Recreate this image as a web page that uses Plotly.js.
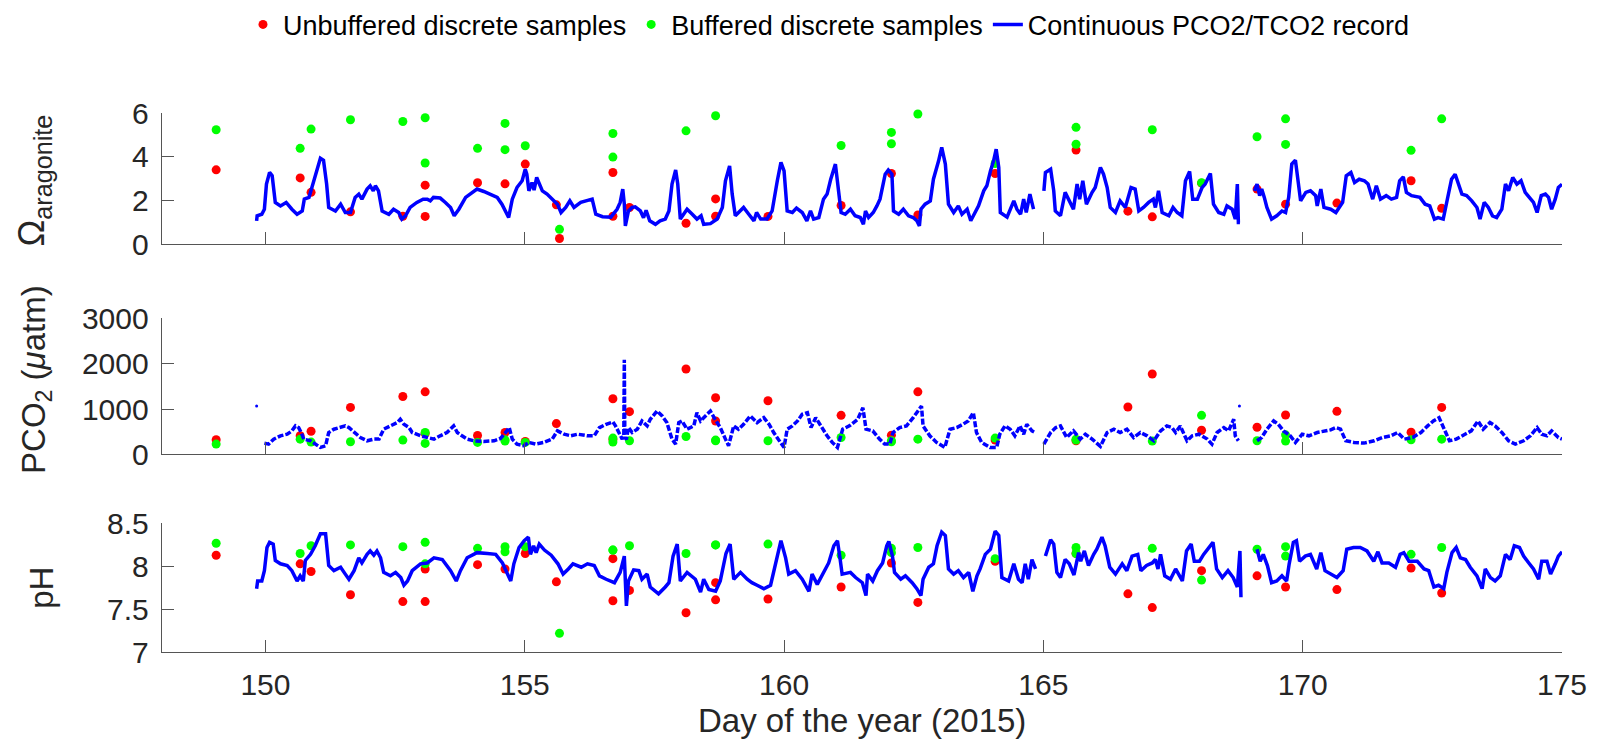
<!DOCTYPE html>
<html>
<head>
<meta charset="utf-8">
<script src="https://cdn.plot.ly/plotly-3.0.1.min.js"></script>
<style>html,body{margin:0;padding:0;background:#fff;}#chart{width:1598px;height:740px;}</style>
</head>
<body>
<div id="chart"></div>
<script>
// ---- Discrete samples (day of year 2015) ----
const unbufferedDays = [149.05,150.67,150.88,151.64,152.65,153.08,153.08,154.09,154.62,155.01,155.61,155.67,156.70,156.70,157.02,158.11,158.68,158.68,159.69,161.10,162.07,162.58,164.07,165.63,166.63,167.10,168.05,169.12,169.67,170.66,172.09,172.68];
const unbufferedOmega = [3.41,3.04,2.38,1.49,1.29,2.71,1.28,2.82,2.77,3.67,1.81,0.27,3.29,1.29,1.69,0.97,2.08,1.29,1.28,1.78,3.24,1.35,3.24,4.31,1.52,1.26,2.80,2.53,1.84,1.89,2.91,1.65];
const unbufferedPCO2 = [322,409,510,1036,1277,460,1380,416,482,285,679,null,330,1226,942,1883,737,1248,1183,861,423,1380,314,300,1044,1774,533,599,869,949,489,1036];
const unbufferedPH = [8.13,8.03,7.94,7.67,7.59,7.97,7.59,8.02,7.97,8.15,7.82,null,8.09,7.60,7.72,7.46,7.81,7.61,7.62,7.76,8.04,7.58,8.06,8.15,7.68,7.52,7.95,7.89,7.76,7.73,7.98,7.69];

const bufferedDays = [149.05,150.67,150.88,151.64,152.65,153.08,153.08,154.09,154.62,154.62,155.01,155.67,156.70,156.70,157.02,158.11,158.68,158.68,159.69,161.10,162.07,162.07,162.58,164.07,165.63,165.63,167.10,168.05,169.12,169.67,169.67,172.09,172.68];
const bufferedOmega = [5.24,4.39,5.27,5.70,5.62,5.79,3.72,4.39,5.53,4.33,4.51,0.69,5.07,3.99,null,5.19,6.03,5.88,null,4.52,5.12,4.60,5.96,3.70,5.35,4.58,5.24,2.82,4.92,5.74,4.57,4.30,5.74];
const bufferedPCO2 = [226,335,270,277,314,241,482,263,292,320,263,null,270,358,300,394,314,300,300,372,277,300,335,358,314,335,292,861,300,292,431,321,335];
const bufferedPH = [8.27,8.15,8.24,8.25,8.23,8.28,8.03,8.21,8.23,8.17,8.23,7.22,8.19,8.19,8.24,8.15,8.25,8.25,8.26,8.13,8.21,8.16,8.22,8.09,8.22,8.15,8.21,7.84,8.20,8.23,8.12,8.14,8.22];

// ---- Continuous PCO2/TCO2 record: [day, value] ----
const omegaRecord = [[149.83,1.08],[149.84,1.31],[149.93,1.38],[149.98,1.61],[150.02,2.76],[150.08,3.29],[150.13,3.14],[150.19,1.92],[150.29,1.76],[150.40,1.92],[150.51,1.61],[150.61,1.38],[150.71,1.53],[150.75,2.07],[150.84,2.15],[150.93,2.83],[151.00,3.36],[151.06,3.94],[151.12,3.85],[151.18,2.76],[151.22,1.69],[151.35,1.53],[151.45,1.84],[151.54,1.46],[151.64,1.46],[151.73,2.15],[151.80,2.30],[151.86,2.07],[151.96,2.53],[152.02,2.68],[152.08,2.45],[152.12,2.68],[152.18,2.45],[152.25,1.53],[152.38,1.38],[152.47,1.61],[152.57,1.46],[152.63,1.16],[152.70,1.31],[152.79,1.69],[152.92,1.92],[153.04,2.07],[153.12,2.07],[153.18,1.99],[153.24,2.15],[153.37,2.12],[153.47,1.92],[153.57,1.69],[153.64,1.31],[153.73,1.61],[153.86,2.15],[153.98,2.38],[154.08,2.53],[154.21,2.42],[154.34,2.30],[154.47,2.15],[154.56,1.84],[154.66,1.31],[154.69,1.23],[154.76,2.07],[154.85,2.60],[154.95,2.91],[155.01,3.44],[155.04,3.21],[155.08,2.45],[155.14,2.83],[155.18,2.48],[155.23,3.06],[155.27,2.83],[155.34,2.45],[155.43,2.30],[155.53,2.07],[155.63,1.84],[155.70,1.46],[155.79,1.69],[155.87,1.99],[155.95,1.69],[156.08,1.92],[156.21,1.99],[156.30,2.07],[156.37,1.38],[156.50,1.27],[156.66,1.25],[156.78,1.61],[156.84,1.92],[156.89,2.53],[156.92,1.84],[156.94,0.85],[157.00,1.53],[157.07,1.69],[157.13,1.72],[157.23,1.53],[157.29,1.22],[157.34,1.56],[157.41,1.08],[157.52,0.92],[157.61,1.08],[157.71,1.16],[157.78,1.53],[157.84,2.76],[157.91,3.40],[157.95,2.76],[158.00,1.16],[158.13,1.61],[158.23,1.38],[158.32,1.16],[158.40,1.31],[158.45,0.92],[158.58,0.95],[158.71,1.16],[158.81,1.69],[158.87,2.91],[158.95,3.59],[159.00,2.30],[159.06,1.31],[159.16,1.53],[159.22,1.69],[159.32,1.38],[159.42,1.08],[159.47,1.46],[159.55,1.16],[159.67,1.16],[159.77,1.53],[159.87,2.91],[159.94,3.75],[160.00,3.36],[160.06,1.53],[160.16,1.46],[160.24,1.66],[160.35,1.46],[160.44,1.08],[160.51,1.53],[160.57,1.16],[160.67,1.23],[160.76,2.07],[160.83,2.30],[160.90,2.98],[160.99,3.67],[161.03,2.91],[161.10,1.46],[161.18,1.38],[161.28,1.61],[161.37,1.31],[161.47,1.23],[161.53,0.92],[161.57,1.53],[161.63,1.23],[161.72,1.46],[161.79,1.76],[161.85,2.07],[161.95,3.21],[162.01,3.40],[162.08,3.21],[162.11,1.53],[162.21,1.38],[162.30,1.61],[162.40,1.31],[162.49,1.23],[162.56,1.08],[162.61,0.85],[162.64,1.61],[162.72,1.84],[162.82,1.99],[162.88,2.98],[162.98,3.82],[163.04,4.43],[163.11,3.67],[163.17,1.84],[163.27,1.46],[163.36,1.76],[163.43,1.38],[163.53,1.61],[163.60,1.08],[163.69,1.53],[163.75,1.76],[163.85,2.45],[163.91,2.68],[163.98,3.36],[164.04,3.82],[164.09,4.35],[164.14,3.52],[164.17,1.46],[164.30,1.25],[164.43,1.99],[164.49,1.61],[164.56,1.38],[164.62,2.07],[164.67,1.46],[164.74,2.30],[164.81,1.61],[164.90,null],[165.01,2.45],[165.04,3.29],[165.14,3.44],[165.20,2.45],[165.23,1.53],[165.33,1.31],[165.42,2.38],[165.49,2.00],[165.58,1.61],[165.65,2.76],[165.70,2.07],[165.76,2.91],[165.83,1.84],[165.94,2.38],[166.00,2.60],[166.10,3.52],[166.16,3.21],[166.23,2.60],[166.29,1.69],[166.39,1.46],[166.48,1.99],[166.58,1.69],[166.69,2.60],[166.77,2.53],[166.84,1.53],[166.93,1.69],[167.03,1.92],[167.12,2.07],[167.16,1.69],[167.22,2.45],[167.29,1.46],[167.42,1.31],[167.50,1.69],[167.58,1.46],[167.67,1.31],[167.74,2.91],[167.82,3.33],[167.88,2.07],[167.97,2.07],[168.06,2.60],[168.12,2.76],[168.22,3.24],[168.28,1.84],[168.38,1.46],[168.48,1.38],[168.54,1.76],[168.64,1.61],[168.70,1.16],[168.74,2.76],[168.76,1.00],[168.79,1.00],[168.90,null],[169.07,2.45],[169.12,2.76],[169.17,2.23],[169.21,2.53],[169.26,2.15],[169.31,1.69],[169.40,1.16],[169.50,1.31],[169.60,1.53],[169.67,1.46],[169.73,2.15],[169.79,3.67],[169.86,3.85],[169.91,2.91],[169.96,1.99],[170.06,2.38],[170.15,2.45],[170.25,2.23],[170.28,1.76],[170.35,2.53],[170.41,1.69],[170.54,1.61],[170.64,1.46],[170.77,1.92],[170.84,3.14],[170.93,3.29],[171.00,2.83],[171.09,2.98],[171.19,2.91],[171.26,2.76],[171.35,2.07],[171.42,2.68],[171.50,2.07],[171.61,2.23],[171.71,2.07],[171.81,2.15],[171.87,2.91],[171.94,3.09],[172.00,2.38],[172.10,2.23],[172.26,2.15],[172.36,1.84],[172.45,1.76],[172.54,1.16],[172.61,1.23],[172.71,1.16],[172.78,1.92],[172.87,2.98],[172.94,3.21],[173.00,2.76],[173.07,2.30],[173.16,2.23],[173.26,1.99],[173.36,1.69],[173.42,1.16],[173.50,1.92],[173.58,1.69],[173.66,1.31],[173.74,1.23],[173.84,1.61],[173.91,2.76],[173.97,2.45],[174.05,3.06],[174.13,2.76],[174.21,2.91],[174.29,2.38],[174.39,2.07],[174.45,1.92],[174.52,1.46],[174.60,2.23],[174.68,2.30],[174.74,2.15],[174.80,1.61],[174.87,2.07],[174.93,2.60],[175.00,2.75]];

const pco2Record = [[149.98,248],[150.06,226],[150.16,336],[150.29,409],[150.42,445],[150.51,518],[150.58,628],[150.64,591],[150.69,482],[150.74,336],[150.87,299],[150.96,226],[151.06,153],[151.16,190],[151.22,482],[151.32,555],[151.45,591],[151.54,628],[151.61,591],[151.71,482],[151.83,372],[151.96,299],[152.09,336],[152.19,336],[152.28,555],[152.41,628],[152.54,701],[152.60,774],[152.67,664],[152.77,591],[152.83,482],[152.99,409],[153.12,372],[153.25,336],[153.37,409],[153.50,482],[153.63,628],[153.70,482],[153.79,409],[153.89,336],[154.02,299],[154.21,285],[154.41,299],[154.53,350],[154.63,482],[154.70,591],[154.76,336],[154.85,226],[154.98,190],[155.08,263],[155.21,226],[155.37,263],[155.53,336],[155.63,518],[155.76,445],[155.89,409],[156.02,445],[156.21,409],[156.34,409],[156.44,591],[156.57,664],[156.70,715],[156.75,628],[156.81,482],[156.88,336],[156.91,420],[156.92,2088],[156.93,380],[156.96,330],[157.00,591],[157.07,482],[157.17,555],[157.26,737],[157.36,628],[157.42,774],[157.55,956],[157.65,847],[157.74,701],[157.84,336],[157.91,226],[157.97,701],[158.03,737],[158.13,555],[158.26,628],[158.32,920],[158.39,737],[158.48,847],[158.58,956],[158.67,774],[158.77,591],[158.87,336],[158.93,190],[159.03,628],[159.12,555],[159.22,664],[159.35,847],[159.48,701],[159.61,810],[159.71,664],[159.80,482],[159.93,263],[160.00,153],[160.06,555],[160.16,628],[160.26,737],[160.35,883],[160.45,920],[160.52,591],[160.61,810],[160.74,555],[160.83,409],[160.93,263],[161.03,153],[161.13,555],[161.26,628],[161.42,774],[161.52,1029],[161.58,555],[161.71,518],[161.84,336],[161.94,226],[162.04,226],[162.10,482],[162.23,591],[162.36,628],[162.49,810],[162.58,956],[162.65,1066],[162.68,628],[162.81,409],[162.94,263],[163.10,153],[163.20,555],[163.33,591],[163.45,664],[163.55,737],[163.65,920],[163.71,482],[163.81,263],[163.97,153],[164.10,153],[164.16,445],[164.26,628],[164.36,555],[164.45,409],[164.55,628],[164.62,445],[164.68,664],[164.78,518],[164.84,482],[164.92,null],[165.01,226],[165.14,482],[165.24,591],[165.33,628],[165.45,372],[165.58,518],[165.71,336],[165.81,445],[165.94,336],[166.10,175],[166.23,482],[166.36,555],[166.48,482],[166.61,555],[166.74,372],[166.87,482],[167.00,409],[167.13,299],[167.26,518],[167.38,628],[167.48,591],[167.55,482],[167.64,628],[167.77,299],[167.87,409],[168.00,445],[168.16,336],[168.25,226],[168.35,482],[168.48,591],[168.57,518],[168.67,774],[168.70,409],[168.76,299],[168.90,null],[169.12,299],[169.21,372],[169.31,555],[169.44,737],[169.53,664],[169.63,518],[169.76,409],[169.86,263],[169.99,445],[170.12,409],[170.28,482],[170.41,518],[170.54,540],[170.64,591],[170.73,555],[170.83,299],[170.99,263],[171.18,248],[171.38,299],[171.54,372],[171.70,409],[171.83,482],[171.96,336],[172.12,372],[172.28,482],[172.41,628],[172.52,737],[172.63,810],[172.73,555],[172.83,299],[172.96,336],[173.09,409],[173.25,518],[173.38,737],[173.48,555],[173.61,701],[173.71,628],[173.84,482],[173.97,299],[174.10,226],[174.26,299],[174.39,409],[174.52,591],[174.61,445],[174.71,409],[174.80,518],[174.93,372],[175.00,336]];
const pco2Isolated = [[149.83,1066],[168.78,1066]];

const phRecord = [[149.83,7.74],[149.85,7.83],[149.93,7.83],[149.98,7.95],[150.03,8.22],[150.08,8.28],[150.15,8.26],[150.19,8.07],[150.29,8.03],[150.42,8.01],[150.51,7.95],[150.61,7.83],[150.67,7.89],[150.73,7.83],[150.77,8.07],[150.87,8.14],[150.96,8.24],[151.06,8.38],[151.16,8.38],[151.22,8.01],[151.32,7.95],[151.45,7.99],[151.54,7.91],[151.61,7.85],[151.71,7.95],[151.80,8.10],[151.86,8.04],[151.96,8.14],[152.02,8.18],[152.09,8.13],[152.15,8.18],[152.22,8.10],[152.28,7.93],[152.41,7.89],[152.51,7.93],[152.61,7.87],[152.67,7.78],[152.74,7.83],[152.83,7.95],[152.99,8.03],[153.12,8.04],[153.25,8.10],[153.41,8.08],[153.57,7.95],[153.68,7.83],[153.76,7.95],[153.89,8.10],[154.08,8.16],[154.28,8.15],[154.44,8.14],[154.57,8.04],[154.66,7.91],[154.73,7.83],[154.79,8.03],[154.89,8.22],[154.99,8.30],[155.07,8.34],[155.11,8.14],[155.17,8.24],[155.22,8.16],[155.28,8.26],[155.38,8.19],[155.51,8.13],[155.64,8.03],[155.74,7.91],[155.84,7.97],[155.93,8.03],[156.09,7.99],[156.21,8.03],[156.34,8.01],[156.44,7.89],[156.57,7.85],[156.73,7.81],[156.84,7.93],[156.89,8.03],[156.92,8.12],[156.96,7.54],[157.00,7.83],[157.10,7.96],[157.20,7.95],[157.26,7.85],[157.36,7.91],[157.42,7.76],[157.58,7.68],[157.71,7.76],[157.78,7.81],[157.86,8.12],[157.94,8.26],[158.00,7.83],[158.13,7.93],[158.29,7.85],[158.39,7.70],[158.45,7.85],[158.55,7.73],[158.68,7.71],[158.77,7.83],[158.88,8.15],[158.96,8.26],[159.03,7.85],[159.16,7.93],[159.29,7.85],[159.38,7.81],[159.48,7.78],[159.61,7.74],[159.74,7.78],[159.83,8.03],[159.94,8.30],[160.03,8.10],[160.09,7.91],[160.22,7.95],[160.35,7.85],[160.48,7.71],[160.54,7.91],[160.64,7.79],[160.77,7.93],[160.86,8.04],[160.96,8.24],[161.03,8.30],[161.08,8.09],[161.12,7.91],[161.28,7.93],[161.38,7.87],[161.51,7.81],[161.58,7.66],[161.61,7.91],[161.71,7.83],[161.80,7.95],[161.90,8.04],[161.98,8.24],[162.02,8.29],[162.09,8.12],[162.13,7.93],[162.25,7.85],[162.34,7.89],[162.47,7.81],[162.56,7.74],[162.64,7.66],[162.68,7.85],[162.79,7.99],[162.88,8.03],[162.95,8.24],[163.04,8.40],[163.11,8.36],[163.17,7.97],[163.27,7.91],[163.36,7.95],[163.46,7.87],[163.56,7.93],[163.64,7.71],[163.72,7.89],[163.78,7.97],[163.88,8.14],[163.98,8.20],[164.07,8.41],[164.14,8.36],[164.20,7.87],[164.33,7.83],[164.43,8.03],[164.52,7.85],[164.59,7.81],[164.65,8.03],[164.71,7.85],[164.78,8.08],[164.85,7.97],[164.94,null],[165.04,8.12],[165.14,8.31],[165.20,8.26],[165.26,7.93],[165.33,7.87],[165.42,8.08],[165.50,8.03],[165.59,7.90],[165.68,8.16],[165.72,8.06],[165.79,8.18],[165.87,8.01],[165.97,8.14],[166.03,8.20],[166.13,8.34],[166.19,8.24],[166.28,7.99],[166.39,7.91],[166.52,8.03],[166.61,7.95],[166.71,8.12],[166.82,8.14],[166.88,7.95],[166.99,8.01],[167.10,8.04],[167.16,8.08],[167.21,7.97],[167.26,8.14],[167.34,7.89],[167.45,7.85],[167.55,7.97],[167.68,7.83],[167.76,8.18],[167.85,8.26],[167.91,8.06],[168.01,8.06],[168.09,8.14],[168.19,8.22],[168.27,8.28],[168.34,7.97],[168.45,7.87],[168.56,7.95],[168.66,7.87],[168.74,7.76],[168.79,8.18],[168.81,7.64],[168.95,null],[169.12,8.20],[169.18,8.06],[169.24,8.14],[169.32,8.01],[169.40,7.81],[169.50,7.83],[169.60,7.89],[169.69,7.83],[169.74,8.03],[169.82,8.28],[169.88,8.30],[169.94,8.06],[170.05,8.12],[170.15,8.14],[170.27,7.97],[170.35,8.16],[170.43,7.95],[170.56,7.91],[170.66,7.87],[170.78,7.95],[170.85,8.20],[170.98,8.22],[171.11,8.22],[171.24,8.18],[171.37,8.06],[171.45,8.17],[171.53,8.04],[171.66,8.04],[171.79,7.99],[171.88,8.14],[171.95,8.16],[172.05,8.06],[172.21,8.06],[172.34,7.97],[172.43,7.95],[172.53,7.76],[172.62,7.78],[172.72,7.74],[172.78,7.93],[172.88,8.16],[172.96,8.22],[173.04,8.10],[173.14,8.08],[173.23,7.99],[173.36,7.89],[173.46,7.74],[173.52,7.97],[173.62,7.87],[173.71,7.83],[173.81,7.89],[173.91,8.14],[174.00,8.08],[174.08,8.24],[174.18,8.22],[174.26,8.12],[174.36,8.04],[174.45,7.97],[174.55,7.85],[174.61,8.06],[174.71,8.06],[174.78,7.91],[174.87,8.03],[174.93,8.12],[175.00,8.17]];

// ---- Axis ticks ----
const dayTicks = [150,155,160,165,170,175];
const omegaTicks = [0,2,4,6];
const pco2Ticks = [0,1000,2000,3000];
const phTicks = [7,7.5,8,8.5];
const phTickText = ['7','7.5','8','8.5'];

const FONT = '"Liberation Sans", Arial, Helvetica, sans-serif';
const TXT = '#262626';
const AXC = '#555555';
const RED = '#ff0000', GREEN = '#00ff00', BLUE = '#0000ff';

const xs = a => a.map(p => p[0]);
const ys = a => a.map(p => p[1]);

function dots(x, y, color, name, xa, ya, show) {
  return {type:'scatter', mode:'markers', x:x, y:y, name:name, legendgroup:name, showlegend:show,
    xaxis:xa, yaxis:ya, marker:{color:color, size:9}, cliponaxis:false, hoverinfo:'x+y'};
}
function rec(a, xa, ya, show, dash) {
  return {type:'scatter', mode:'lines', x:xs(a), y:ys(a), name:'Continuous PCO2/TCO2 record',
    legendgroup:'rec', showlegend:show, xaxis:xa, yaxis:ya, connectgaps:false,
    line:{color:BLUE, width:3.5, dash:dash||'solid'}};
}

const traces = [
  dots(unbufferedDays, unbufferedOmega, RED, 'Unbuffered discrete samples', 'x', 'y', true),
  dots(bufferedDays, bufferedOmega, GREEN, 'Buffered discrete samples', 'x', 'y', true),
  rec(omegaRecord, 'x', 'y', true),
  dots(unbufferedDays, unbufferedPCO2, RED, 'Unbuffered discrete samples', 'x2', 'y2', false),
  dots(bufferedDays, bufferedPCO2, GREEN, 'Buffered discrete samples', 'x2', 'y2', false),
  rec(pco2Record, 'x2', 'y2', false, '6px,2px'),
  {type:'scatter', mode:'markers', x:xs(pco2Isolated), y:ys(pco2Isolated), xaxis:'x2', yaxis:'y2',
    name:'record (isolated)', showlegend:false, marker:{color:BLUE, size:3}},
  dots(unbufferedDays, unbufferedPH, RED, 'Unbuffered discrete samples', 'x3', 'y3', false),
  dots(bufferedDays, bufferedPH, GREEN, 'Buffered discrete samples', 'x3', 'y3', false),
  rec(phRecord, 'x3', 'y3', false)
];

const W = 1598, H = 740;
const xDom = [161.7/W, 1562/W];
const p1 = [108, 240.4], p2 = [315, 452], p3 = [521.7, 651.5];
const dom = p => [1 - p[1]/H, 1 - p[0]/H];

function xAx(anchor, labels) {
  return {domain:xDom, anchor:anchor, range:[148,175], tickvals:dayTicks, ticks:'inside', ticklen:12,
    tickcolor:AXC, showline:true, linecolor:AXC, linewidth:1, showgrid:false, zeroline:false,
    showticklabels:labels, tickfont:{family:FONT, size:30, color:TXT}, ticklabelstandoff:6, fixedrange:true};
}
function yAx(anchor, d, range, tv, tt) {
  const o = {domain:dom(d), anchor:anchor, range:range, tickvals:tv, ticks:'inside', ticklen:12,
    tickcolor:AXC, showline:true, linecolor:AXC, linewidth:1, showgrid:false, zeroline:false,
    tickfont:{family:FONT, size:30, color:TXT}, ticklabelstandoff:6, fixedrange:true};
  if (tt) o.ticktext = tt;
  return o;
}

const layout = {
  width:W, height:H, margin:{l:0, r:0, t:0, b:0}, paper_bgcolor:'#fff', plot_bgcolor:'rgba(0,0,0,0)',
  font:{family:FONT, color:TXT},
  showlegend:true,
  legend:{orientation:'h', x:829/W, xanchor:'center', y:1 - 19/H, yanchor:'middle',
    font:{family:FONT, size:27, color:'#000'}, bgcolor:'rgba(0,0,0,0)', itemwidth:30, tracegroupgap:0},
  xaxis:xAx('y', false), yaxis:yAx('x', p1, [0,6], omegaTicks),
  xaxis2:xAx('y2', false), yaxis2:yAx('x2', p2, [0,3000], pco2Ticks),
  xaxis3:xAx('y3', true), yaxis3:yAx('x3', p3, [7,8.5], phTicks, phTickText),
  annotations:[
    {text:'Ω<sub>aragonite</sub>', xref:'paper', yref:'paper', x:34/W, y:1-176/H, textangle:-90,
      xanchor:'center', yanchor:'middle', showarrow:false, font:{family:FONT, size:36, color:TXT}},
    {text:'PCO<sub>2</sub> (<i>μ</i>atm)', xref:'paper', yref:'paper', x:36/W, y:1-377/H, textangle:-90,
      xanchor:'center', yanchor:'middle', showarrow:false, font:{family:FONT, size:33, color:TXT}},
    {text:'pH', xref:'paper', yref:'paper', x:42/W, y:1-(p3[0]+p3[1])/2/H, textangle:-90,
      xanchor:'center', yanchor:'middle', showarrow:false, font:{family:FONT, size:33, color:TXT}},
    {text:'Day of the year (2015)', xref:'paper', yref:'paper', x:(161.7+1562)/2/W, y:1-720/H,
      xanchor:'center', yanchor:'middle', showarrow:false, font:{family:FONT, size:33, color:TXT}}
  ]
};

Plotly.newPlot('chart', traces, layout, {displayModeBar:false, staticPlot:true});
</script>
</body>
</html>
